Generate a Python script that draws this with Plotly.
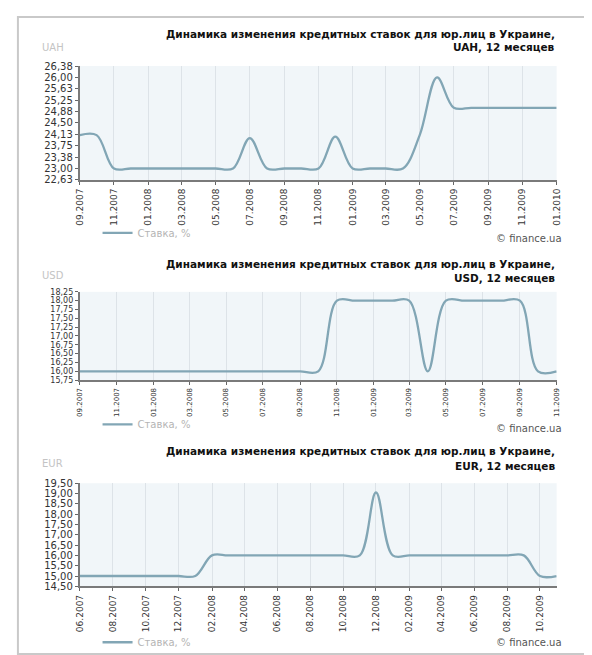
import plotly.graph_objects as go

# ---------------- data ----------------
uah_months = ["2007-09", "2007-10", "2007-11", "2007-12",
              "2008-01", "2008-02", "2008-03", "2008-04", "2008-05", "2008-06",
              "2008-07", "2008-08", "2008-09", "2008-10", "2008-11", "2008-12",
              "2009-01", "2009-02", "2009-03", "2009-04", "2009-05", "2009-06",
              "2009-07", "2009-08", "2009-09", "2009-10", "2009-11", "2009-12",
              "2010-01"]
uah_rate = [24.1, 24.1, 23.0, 23.0,
            23.0, 23.0, 23.0, 23.0, 23.0, 23.0,
            24.0, 23.0, 23.0, 23.0, 23.0, 24.05,
            23.0, 23.0, 23.0, 23.0, 24.1, 26.0,
            25.0, 25.0, 25.0, 25.0, 25.0, 25.0,
            25.0]

usd_months = ["2007-09", "2007-10", "2007-11", "2007-12",
              "2008-01", "2008-02", "2008-03", "2008-04", "2008-05", "2008-06",
              "2008-07", "2008-08", "2008-09", "2008-10", "2008-11", "2008-12",
              "2009-01", "2009-02", "2009-03", "2009-04", "2009-05", "2009-06",
              "2009-07", "2009-08", "2009-09", "2009-10", "2009-11"]
usd_rate = [16.0, 16.0, 16.0, 16.0,
            16.0, 16.0, 16.0, 16.0, 16.0, 16.0,
            16.0, 16.0, 16.0, 16.0, 18.0, 18.0,
            18.0, 18.0, 18.0, 16.0, 18.0, 18.0,
            18.0, 18.0, 18.0, 16.0, 16.0]

eur_months = ["2007-06", "2007-07", "2007-08", "2007-09", "2007-10", "2007-11", "2007-12",
              "2008-01", "2008-02", "2008-03", "2008-04", "2008-05", "2008-06",
              "2008-07", "2008-08", "2008-09", "2008-10", "2008-11", "2008-12",
              "2009-01", "2009-02", "2009-03", "2009-04", "2009-05", "2009-06",
              "2009-07", "2009-08", "2009-09", "2009-10", "2009-11"]
eur_rate = [15.0, 15.0, 15.0, 15.0, 15.0, 15.0, 15.0,
            15.0, 16.0, 16.0, 16.0, 16.0, 16.0,
            16.0, 16.0, 16.0, 16.0, 16.0, 19.05,
            16.0, 16.0, 16.0, 16.0, 16.0, 16.0,
            16.0, 16.0, 16.0, 15.0, 15.0]

currencies = ["UAH", "USD", "EUR"]
title_line1 = "Динамика изменения кредитных ставок для юр.лиц в Украине,"
title_line2 = "{}, 12 месяцев"
series_name = "Ставка, %"
credit = "© finance.ua"

y_ranges = [(22.625, 26.375, 0.375), (15.75, 18.25, 0.25), (14.5, 19.5, 0.5)]

# ---------------- styling / layout ----------------
W, H = 592, 655
LINE = "#82a6b5"
FONT = "DejaVu Sans"


def px(xp):
    return xp / W


def py(yp):
    return 1 - yp / H


# plot-area tops / bottoms (pixels) and text positions per panel
panels = [
    dict(top=53, bottom=169, t1=20, t2=34, cur=34, leg=223, cred=229, xfs=9, yfs=10),
    dict(top=283, bottom=373, t1=255, t2=269, cur=266, leg=418, cred=422, xfs=7, yfs=8),
    dict(top=478, bottom=583, t1=445, t2=460, cur=458, leg=640, cred=640, xfs=9, yfs=10),
]
X0, X1 = 68, 553

fig = go.Figure()
data = [(uah_months, uah_rate), (usd_months, usd_rate), (eur_months, eur_rate)]
legend_ids = ["legend", "legend2", "legend3"]

annotations = []
layout_axes = {}
for i, ((mx, vals), p, cur, (lo, hi, dt)) in enumerate(zip(data, panels, currencies, y_ranges)):
    sfx = "" if i == 0 else str(i + 1)
    fig.add_trace(go.Scatter(
        x=mx, y=vals, mode="lines", name=series_name,
        line=dict(shape="spline", smoothing=1.0, color=LINE, width=2.3),
        xaxis="x" + sfx, yaxis="y" + sfx, legend=legend_ids[i],
        hoverinfo="skip",
    ))
    layout_axes["xaxis" + sfx] = dict(
        domain=[px(X0), px(X1)], anchor="y" + sfx, type="date",
        range=[mx[0] + "-01", mx[-1] + "-01"], tick0=mx[0] + "-01", dtick="M2",
        tickformat="%m.%Y", tickangle=-90, ticks="outside", ticklen=3,
        tickcolor="#666", showline=True, linecolor="#7a7a7a", linewidth=2,
        showgrid=True, gridcolor="#dde3e8", gridwidth=1, zeroline=False,
        tickfont=dict(family=FONT, size=p["xfs"], color="#333"), fixedrange=True,
    )
    layout_axes["yaxis" + sfx] = dict(
        domain=[py(p["bottom"]), py(p["top"])], anchor="x" + sfx,
        range=[lo, hi], tick0=lo, dtick=dt, tickformat=".2f",
        ticks="outside", ticklen=3, tickcolor="#666",
        showline=True, linecolor="#7a7a7a", linewidth=2,
        showgrid=False, zeroline=False,
        tickfont=dict(family=FONT, size=p["yfs"], color="#333"), fixedrange=True,
    )
    layout_axes[legend_ids[i]] = dict(
        x=px(86), y=py(p["leg"]), xanchor="left", yanchor="middle",
        orientation="h", bgcolor="rgba(0,0,0,0)",
        font=dict(family=FONT, size=10, color="#b4b4b4"),
    )
    annotations += [
        dict(text="<b>" + title_line1 + "</b>", x=px(X1), y=py(p["t1"]),
             xref="paper", yref="paper", xanchor="right", yanchor="middle",
             showarrow=False, font=dict(family=FONT, size=10.5, color="#111")),
        dict(text="<b>" + title_line2.format(cur) + "</b>", x=px(X1), y=py(p["t2"]),
             xref="paper", yref="paper", xanchor="right", yanchor="middle",
             showarrow=False, font=dict(family=FONT, size=10.5, color="#111")),
        dict(text=cur, x=px(27), y=py(p["cur"]), xref="paper", yref="paper",
             xanchor="left", yanchor="middle", showarrow=False,
             font=dict(family=FONT, size=10, color="#c4c4c4")),
        dict(text=credit, x=px(560), y=py(p["cred"]), xref="paper", yref="paper",
             xanchor="right", yanchor="middle", showarrow=False,
             font=dict(family=FONT, size=10, color="#555")),
    ]

fig.update_layout(
    width=W, height=H, margin=dict(l=0, r=0, t=0, b=0),
    paper_bgcolor="white", plot_bgcolor="#f1f6f9",
    separators=", ", showlegend=True,
    annotations=annotations,
    shapes=[dict(type="rect", xref="paper", yref="paper",
                 x0=px(5), x1=1.05, y0=py(652), y1=py(3),
                 line=dict(color="#c9c9c9", width=2), layer="below")],
    **layout_axes,
)

fig.write_html("out.html")
